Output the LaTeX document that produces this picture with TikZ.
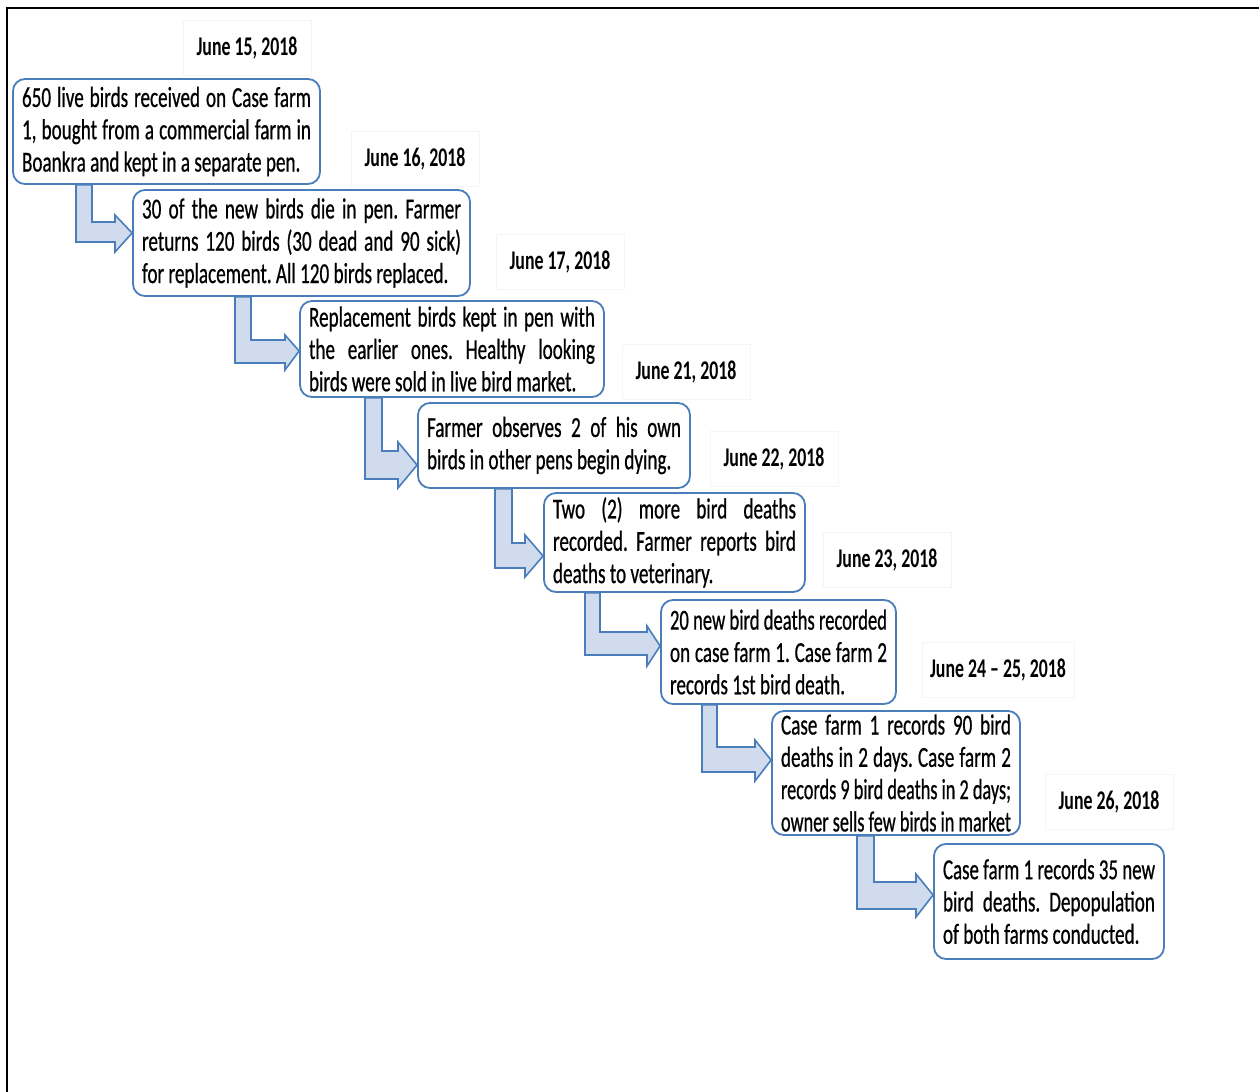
\documentclass[tikz,border=0pt]{standalone}
\usepackage{fontspec}
\setmainfont{Carlito}[FakeStretch=0.66]
\newfontfamily\bodyfont{Carlito}[FakeStretch=0.66, FakeBold=0.6]
\usepackage{graphicx}
\frenchspacing
\definecolor{bblue}{RGB}{74,126,187}
\definecolor{afill}{RGB}{208,220,238}
\newsavebox\jlbox
\newcommand\jl[1]{{\spaceskip=0pt\xspaceskip=0pt\sbox\jlbox{#1}\ifdim\wd\jlbox>\linewidth\resizebox{\linewidth}{\height}{\usebox\jlbox}\else\makebox[\linewidth][s]{#1}\fi}}
\newcommand\jlast[1]{{\spaceskip=0pt\xspaceskip=0pt\sbox\jlbox{#1}\ifdim\wd\jlbox>\linewidth\resizebox{\linewidth}{\height}{\usebox\jlbox}\else\makebox[\linewidth][l]{#1}\fi}}
\tikzset{
  evbox/.style={draw=bblue, line width=1.8pt, rounded corners=12pt, fill=white,
    inner sep=0pt, align=left, font=\bodyfont\fontsize{29}{32.3}\selectfont},
  datelbl/.style={draw=black!4, line width=0.8pt, minimum width=128pt,
    minimum height=55pt, inner sep=0pt, font=\bfseries\fontsize{27}{30}\selectfont},
  barrow/.style={draw=bblue, fill=afill, line width=1.6pt, line join=miter},
  frameline/.style={line width=2.4pt, black}
}
\begin{document}
\begin{tikzpicture}[x=1pt,y=-1pt]
\useasboundingbox (0,0) rectangle (1259,1092);
\draw[frameline] (7,1092) -- (7,8) -- (1259,8);

% date labels
\node[datelbl] (d1) at (247,48) {June 15, 2018};
\node[datelbl] (d2) at (415,159) {June 16, 2018};
\node[datelbl] (d3) at (560,262) {June 17, 2018};
\node[datelbl] (d4) at (686,372) {June 21, 2018};
\node[datelbl] (d5) at (774,459) {June 22, 2018};
\node[datelbl] (d6) at (887,560) {June 23, 2018};
\node[datelbl, minimum width=152pt] (d7) at (998,670) {June 24 -- 25, 2018};
\node[datelbl] (d8) at (1109,802) {June 26, 2018};

% event boxes
\node[evbox, minimum width=307pt, minimum height=105pt, text width=289pt] (b1) at (166.5,131.5)
 {\jl{650 live birds received on Case farm}\\\jl{1, bought from a commercial farm in}\\\jlast{Boankra and kept in a separate pen.}};
\node[evbox, minimum width=337pt, minimum height=106pt, text width=319pt] (b2) at (301.5,243)
 {\jl{30 of the new birds die in pen. Farmer}\\\jl{returns 120 birds (30 dead and 90 sick)}\\\jlast{for replacement. All 120 birds replaced.}};
\node[evbox, minimum width=304pt, minimum height=96pt, text width=286pt] (b3) at (452,349)
 {\jl{Replacement birds kept in pen with}\\\jl{the earlier ones. Healthy looking}\\\jlast{birds were sold in live bird market.}};
\node[evbox, minimum width=272pt, minimum height=85pt, text width=254pt] (b4) at (554,445.5)
 {\jl{Farmer observes 2 of his own}\\\jlast{birds in other pens begin dying.}};
\node[evbox, minimum width=261pt, minimum height=99pt, text width=243pt] (b5) at (674.5,542.5)
 {\jl{Two (2) more bird deaths}\\\jl{recorded. Farmer reports bird}\\\jlast{deaths to veterinary.}};
\node[evbox, minimum width=235pt, minimum height=104pt, text width=217pt] (b6) at (778.5,652)
 {\jl{20 new bird deaths recorded}\\\jl{on case farm 1. Case farm 2}\\\jlast{records 1st bird death.}};
\node[evbox, minimum width=248pt, minimum height=124pt, text width=230pt] (b7) at (896,773)
 {\jl{Case farm 1 records 90 bird}\\\jl{deaths in 2 days. Case farm 2}\\\jl{records 9 bird deaths in 2 days;}\\\jl{owner sells few birds in market}};
\node[evbox, minimum width=230pt, minimum height=115pt, text width=212pt] (b8) at (1049,901.5)
 {\jl{Case farm 1 records 35 new}\\\jl{bird deaths. Depopulation}\\\jlast{of both farms conducted.}};

% bent arrows
\draw[barrow] (76,0 |- b1.south) -- (92,0 |- b1.south) -- (92,222) -- (115,222) -- (115,215)
  -- (b2.west |- 0,233) -- (115,252) -- (115,242) -- (76,242) -- cycle;
\draw[barrow] (235,0 |- b2.south) -- (251,0 |- b2.south) -- (251,340) -- (285,340) -- (285,335)
  -- (b3.west |- 0,351) -- (285,370) -- (285,363) -- (235,363) -- cycle;
\draw[barrow] (365,0 |- b3.south) -- (382,0 |- b3.south) -- (382,451) -- (398,451) -- (398,442)
  -- (b4.west |- 0,465) -- (398,488) -- (398,479) -- (365,479) -- cycle;
\draw[barrow] (495,0 |- b4.south) -- (512,0 |- b4.south) -- (512,543) -- (525,543) -- (525,535)
  -- (b5.west |- 0,556) -- (525,577) -- (525,568) -- (495,568) -- cycle;
\draw[barrow] (585,0 |- b5.south) -- (600,0 |- b5.south) -- (600,632) -- (647,632) -- (647,626)
  -- (b6.west |- 0,646) -- (647,666) -- (647,655) -- (585,655) -- cycle;
\draw[barrow] (702,0 |- b6.south) -- (717,0 |- b6.south) -- (717,747) -- (755,747) -- (755,740)
  -- (b7.west |- 0,760) -- (755,781) -- (755,772) -- (702,772) -- cycle;
\draw[barrow] (857,0 |- b7.south) -- (874,0 |- b7.south) -- (874,882) -- (916,882) -- (916,874)
  -- (b8.west |- 0,895) -- (916,917) -- (916,909) -- (857,909) -- cycle;
\end{tikzpicture}
\end{document}
